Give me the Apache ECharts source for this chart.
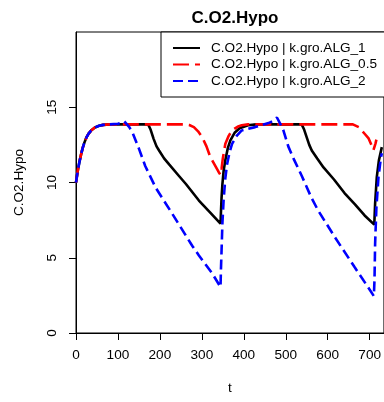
<!DOCTYPE html>
<html>
<head>
<meta charset="utf-8">
<script src="https://cdn.jsdelivr.net/npm/echarts@6/dist/echarts.min.js"></script>
<style>
html,body{margin:0;padding:0;background:#fff;}
#chart{width:384px;height:402px;}
</style>
</head>
<body>
<div id="chart"></div>
<script>
// ---- data ----
const seriesNames = ['C.O2.Hypo | k.gro.ALG_1', 'C.O2.Hypo | k.gro.ALG_0.5', 'C.O2.Hypo | k.gro.ALG_2'];

const blackT = [0,4,8,12,16,20,25,30,36,45,55,65,80,
  172,178,185,192,198,210,222,245,262,293,320,344.5,
  345.5,347,349,352,356,362,368,378,390,410,430,
  538,544,550,556,562,575,590,615,640,665,688,711,
  713,717,722,729];
const blackV = [10,10.75,11.35,11.85,12.3,12.65,13.0,13.25,13.45,13.65,13.77,13.83,13.86,
  13.86,13.5,12.9,12.4,12.13,11.6,11.2,10.45,9.9,8.8,8.0,7.26,
  8.0,9.0,9.9,10.8,11.5,12.3,12.8,13.3,13.6,13.8,13.86,
  13.86,13.5,13.0,12.5,12.13,11.6,11.0,10.2,9.3,8.55,7.81,7.2,
  8.6,10.36,11.47,12.35];

const redT = [0,4,8,12,16,20,25,30,36,45,55,65,80,
  262,270,281,291,301,311,320,330,340,344.5,
  347,350,356,364,372,385,395,410,
  660,674,688,697,704,709,711,714,716];
const redV = [10,10.75,11.35,11.85,12.3,12.65,13.0,13.25,13.45,13.65,13.77,13.83,13.86,
  13.86,13.82,13.68,13.4,13.0,12.4,11.7,11.2,10.7,10.5,
  10.9,11.6,12.57,13.1,13.46,13.7,13.8,13.86,
  13.86,13.68,13.24,12.95,12.5,12.15,12.1,12.6,12.85];

const blueT = [0,4,8,12,16,20,25,30,36,45,55,65,80,
  100,108,115,121,127,135,150,165,190,230,277,293,325,344.5,
  345.5,347,349,352,356,360,366,372,383,395,427,459,470,479,
  486,494,506,520,538,561,577,617,664,696,710,
  711.5,713,716,721,727,729];
const blueV = [10,10.75,11.35,11.85,12.3,12.65,13.0,13.25,13.45,13.65,13.77,13.83,13.86,
  13.9,13.97,14.06,13.88,13.68,13.3,12.25,11.1,9.65,7.9,5.8,5.15,3.95,3.05,
  4.2,5.5,7.3,8.9,10.3,11.2,12.0,12.57,13.1,13.46,13.68,13.95,14.1,14.32,
  13.95,13.5,12.4,11.5,10.45,9.0,8.15,6.37,4.38,3.05,2.45,
  3.5,5.9,8.3,10.36,11.69,11.95];

const xTicks = [0,100,200,300,400,500,600,700];
const yTicks = [0,5,10,15];

// ---- chart ----
const FONT = "'Liberation Sans', Arial, sans-serif";
function zip(t, v) { return t.map((x, i) => [x, v[i]]); }

const chart = echarts.init(document.getElementById('chart'), null, {renderer: 'canvas'});
const option = {
  animation: false,
  backgroundColor: '#fff',
  textStyle: {fontFamily: FONT},
  title: {
    text: 'C.O2.Hypo',
    left: 230, top: 5, textAlign: 'center',
    textStyle: {fontSize: 17, fontWeight: 'bold', color: '#000', fontFamily: FONT}
  },
  legend: {
    orient: 'vertical',
    left: 161, top: 32,
    padding: [9, 60, 9, 11],
    itemWidth: 27, itemHeight: 14, itemGap: 2.5,
    borderColor: '#000', borderWidth: 1, borderRadius: 0,
    backgroundColor: '#fff',
    itemStyle: {opacity: 0, borderWidth: 0},
    textStyle: {fontSize: 13.6, color: '#000', fontFamily: FONT, padding: [0, 0, 0, 6]},
    data: seriesNames
  },
  grid: {
    left: 76, right: -2, top: 32, bottom: 69,
    show: true, borderColor: '#000', borderWidth: 1, backgroundColor: 'transparent'
  },
  xAxis: {
    type: 'value', min: 0, max: 734,
    name: 't', nameLocation: 'middle', nameGap: 48,
    nameTextStyle: {fontSize: 13.6, color: '#000', fontFamily: FONT},
    axisLine: {show: true, onZero: false, lineStyle: {color: '#000', width: 1}},
    axisTick: {show: true, length: 7, customValues: xTicks, lineStyle: {color: '#000', width: 1}},
    axisLabel: {customValues: xTicks, margin: 15, fontSize: 13.6, color: '#000', fontFamily: FONT},
    splitLine: {show: false}
  },
  yAxis: {
    type: 'value', min: 0, max: 20,
    name: 'C.O2.Hypo', nameLocation: 'middle', nameGap: 50,
    nameTextStyle: {fontSize: 13.6, color: '#000', fontFamily: FONT},
    axisLine: {show: true, onZero: false, lineStyle: {color: '#000', width: 1}},
    axisTick: {show: true, length: 7, customValues: yTicks, lineStyle: {color: '#000', width: 1}},
    axisLabel: {customValues: yTicks, rotate: 90, margin: 17, fontSize: 13.6, color: '#000', fontFamily: FONT},
    splitLine: {show: false}
  },
  series: [
    {name: seriesNames[0], type: 'line', data: zip(blackT, blackV), showSymbol: false, symbol: 'none',
     lineStyle: {color: '#000000', width: 2.6, type: 'solid'}, itemStyle: {color: '#000000'}},
    {name: seriesNames[1], type: 'line', data: zip(redT, redV), showSymbol: false, symbol: 'none',
     lineStyle: {color: '#ff0000', width: 2.6, type: [16, 6]}, itemStyle: {color: '#ff0000'}},
    {name: seriesNames[2], type: 'line', data: zip(blueT, blueV), showSymbol: false, symbol: 'none',
     lineStyle: {color: '#0000ff', width: 2.6, type: [10, 5]}, itemStyle: {color: '#0000ff'}}
  ]
};
chart.setOption(option);
</script>
</body>
</html>
